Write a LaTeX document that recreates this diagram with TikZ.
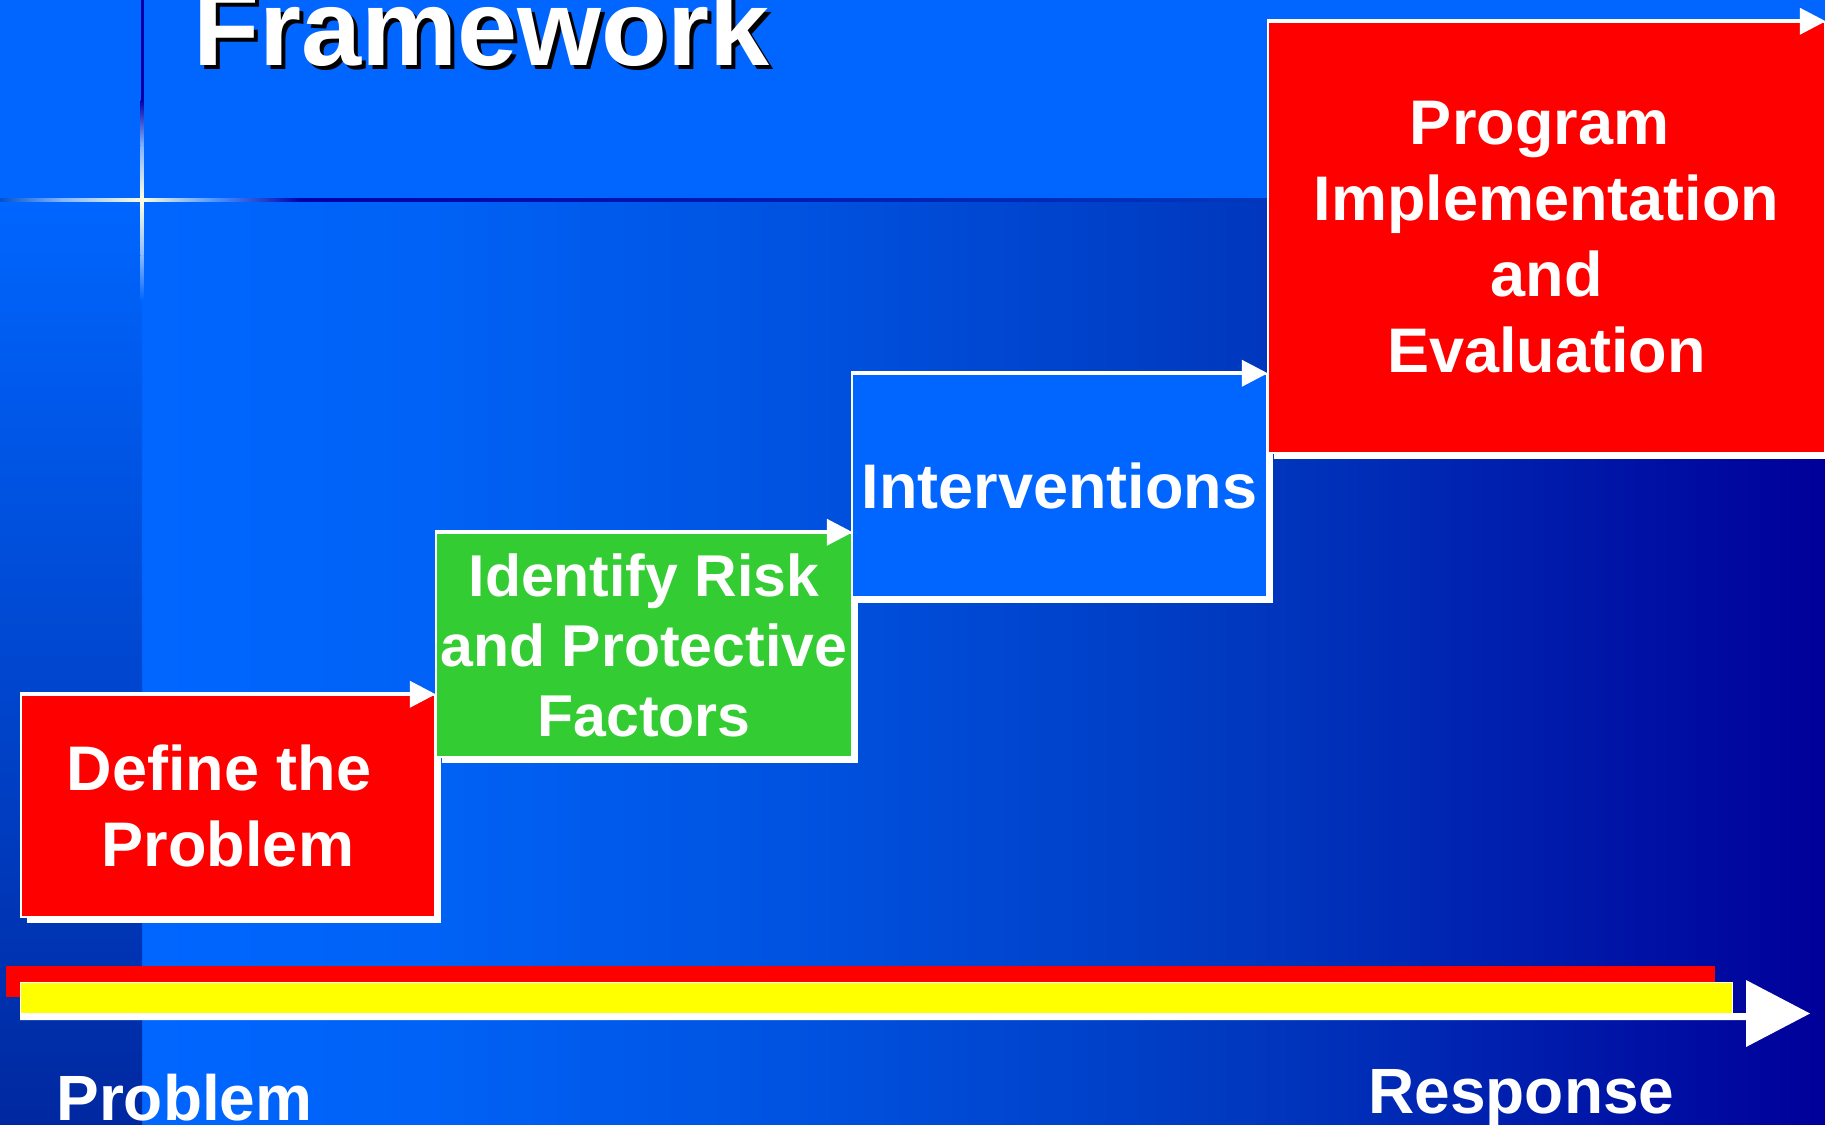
\documentclass[tikz,border=0pt]{standalone}
\usepackage{fontspec}
\setmainfont{Liberation Sans}
\usetikzlibrary{arrows.meta,shadows}
\definecolor{bgblue}{HTML}{0066FF}
\definecolor{navy}{HTML}{000099}
\definecolor{boxred}{HTML}{FF0000}
\definecolor{boxgreen}{HTML}{33CC33}
\definecolor{baryellow}{HTML}{FFFF00}
\definecolor{gA}{HTML}{0062F6}
\definecolor{gB}{HTML}{0050DD}
\definecolor{gC}{HTML}{0038BE}
\definecolor{stripbot}{HTML}{0028A0}
\definecolor{lnavy}{HTML}{0000A8}
\definecolor{glow}{HTML}{FFFFE0}
\begin{document}
\begin{tikzpicture}[x=0.5pt,y=-0.5pt,
  stepbox/.style={draw=white, line width=0.75pt, text=white, align=center, inner sep=0pt,
    font=\bfseries\fontsize{31.5pt}{38pt}\selectfont,
    drop shadow={shadow xshift=3pt, shadow yshift=-3pt, fill=white, opacity=1}},
  toparrow/.style={draw=white, line width=2pt, -{Triangle[length=13pt,width=13pt]}},
  axislabel/.style={text=white, font=\bfseries\fontsize{32pt}{38pt}\selectfont, inner sep=0pt, anchor=base west},
  titletext/.style={font=\bfseries\fontsize{54pt}{60pt}\selectfont, inner sep=0pt, anchor=base west}]
\useasboundingbox (0,0) rectangle (1825,1124);
\clip (0,0) rectangle (1825,1124);
% background
\fill[bgblue] (0,0) rectangle (1825,201);
\shade[left color=bgblue, right color=gA] (141,199) rectangle (431,1124);
\shade[left color=gA, right color=gB] (430,199) rectangle (841,1124);
\shade[left color=gB, right color=gC] (840,199) rectangle (1251,1124);
\shade[left color=gC, right color=navy] (1250,199) rectangle (1825,1124);
\shade[top color=bgblue, bottom color=stripbot] (0,199) rectangle (142,1124);
% horizontal rule with glow
\shade[left color=bgblue!80!black, right color=bgblue!50!white] (0,198.5) rectangle (61,201.5);
\shade[left color=bgblue!50!white, right color=glow] (60,198.5) rectangle (142.5,201.5);
\shade[left color=glow, right color=bgblue!70!white] (142,198.5) rectangle (215.5,201.5);
\shade[left color=bgblue!70!white, right color=lnavy] (215,198.5) rectangle (300.5,201.5);
\shade[left color=lnavy, right color=gC] (300,198.5) rectangle (1270,201.5);
% vertical rule with glow
\fill[lnavy] (140.5,0) rectangle (143.5,100.5);
\shade[top color=lnavy, bottom color=bgblue!50!white] (140.5,100) rectangle (143.5,145.5);
\shade[top color=bgblue!50!white, bottom color=glow] (140.5,145) rectangle (143.5,198.5);
\shade[top color=glow, bottom color=bgblue!45!white] (140.5,201.5) rectangle (143.5,255.5);
\shade[top color=bgblue!45!white, bottom color=bgblue] (140.5,255) rectangle (143.5,300);
% title
\node[titletext, text=black] (titleshadow) at (197,69) {Framework};
\node[titletext, text=white] (title) at (193,65) {Framework};
% steps
\node[stepbox, fill=boxred, minimum width=207pt, minimum height=111pt] (b1) at (228,806) {Define the\hspace*{0.28em}\\Problem};
\draw[toparrow] (b1.north west) -- (b1.north east);
\node[stepbox, fill=boxgreen, minimum width=208pt, minimum height=112pt,
  font=\bfseries\fontsize{29.5pt}{35pt}\selectfont] (b2) at (644,645) {Identify Risk\\and Protective\\Factors};
\draw[toparrow] (b2.north west) -- (b2.north east);
\node[stepbox, fill=bgblue, minimum width=207.5pt, minimum height=111.5pt] (b3) at (1059.5,485.5) {Interventions};
\draw[toparrow] (b3.north west) -- (b3.north east);
\node[stepbox, fill=boxred, minimum width=278.5pt, minimum height=215.5pt] (b4) at (1546.5,237.5)
  {Program\hspace*{7pt}\\Implementation\hspace*{7pt}\\and\hspace*{7pt}\\Evaluation};
\draw[toparrow] (b4.north west) -- (b4.north east);
% bottom bars
\fill[boxred] (6,966) rectangle (1715,997);
\fill[white] (20,1013) -- (1746,1013) -- (1746,980) -- (1810,1013.5) -- (1746,1047) -- (1746,1020) -- (20,1020) -- cycle;
\filldraw[fill=baryellow, draw=white, line width=0.5pt] (20,982) rectangle (1732,1013);
% axis labels
\node[axislabel] (problem) at (56,1120) {Problem};
\node[axislabel] (response) at (1368,1113) {Response};
\end{tikzpicture}
\end{document}
